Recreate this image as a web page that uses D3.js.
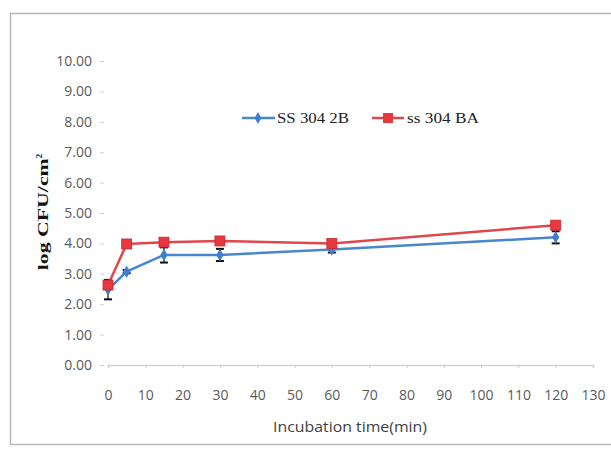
<!DOCTYPE html>
<html>
<head>
<meta charset="utf-8">
<script src="https://cdn.jsdelivr.net/npm/d3@7"></script>
<style>
  body { margin: 0; background: #fff; }
  svg { display: block; }
</style>
</head>
<body>
<svg id="chart" width="611" height="450"></svg>
<script>
// data
let times = [0, 5, 15, 30, 60, 120];
let ss2B = [2.48, 3.07, 3.62, 3.62, 3.80, 4.20];
let ss2B_err = [0.32, 0.05, 0.25, 0.20, 0.10, 0.20];
let ssBA = [2.63, 3.98, 4.04, 4.08, 4.00, 4.60];
let ssBA_err = [0.05, 0.05, 0.05, 0.05, 0.05, 0.05];
let seriesNames = ['SS 304 2B', 'ss 304 BA'];
let xTicks = d3.range(0, 131, 10);
let yTicks = d3.range(0, 10.01, 1);

let svg = d3.select('#chart');

// outer frame
svg.append('rect')
    .attr('x', 10.5).attr('y', 13.5)
    .attr('width', 640).attr('height', 431)
    .attr('fill', 'none')
    .attr('stroke', '#b8b8b8')
    .attr('stroke-width', 1.5);

let x = d3.scaleLinear().domain([0, 130]).range([108, 593]);
let y = d3.scaleLinear().domain([0, 10]).range([365, 61]);

// y axis
let yAxis = svg.append('g')
    .attr('transform', 'translate(104,0)')
    .call(d3.axisLeft(y).tickValues(yTicks).tickFormat(d3.format('.2f')).tickSize(4).tickPadding(8));
yAxis.select('.domain').remove();
yAxis.selectAll('line').attr('stroke', '#d0d0d0');
yAxis.selectAll('text')
    .attr('fill', '#5a5a5a')
    .style('font-family', 'Open Sans, sans-serif')
    .style('font-size', '14px');

// x axis
let xAxis = svg.append('g')
    .attr('transform', 'translate(0,365)')
    .call(d3.axisBottom(x).tickValues(xTicks).tickSize(3).tickPadding(22));
xAxis.select('.domain').attr('stroke', '#d0d0d0').attr('stroke-width', 1.5);
xAxis.selectAll('line').attr('stroke', '#d0d0d0');
xAxis.selectAll('text')
    .attr('fill', '#5a5a5a')
    .style('font-family', 'Open Sans, sans-serif')
    .style('font-size', '14px');

// axis titles
svg.append('text')
    .attr('x', 350).attr('y', 432)
    .attr('text-anchor', 'middle')
    .attr('fill', '#404040')
    .attr('textLength', 154)
    .attr('lengthAdjust', 'spacingAndGlyphs')
    .style('font-family', 'Open Sans, sans-serif')
    .style('font-size', '15px')
    .text('Incubation time(min)');

let yTitle = svg.append('text')
    .attr('transform', 'translate(48,212) rotate(-90)')
    .attr('text-anchor', 'middle')
    .attr('fill', '#111')
    .style('font-family', 'Liberation Serif, serif')
    .style('font-weight', 'bold')
    .style('font-size', '15px');
yTitle.append('tspan').attr('textLength', 112).attr('lengthAdjust', 'spacingAndGlyphs').text('log CFU/cm');
yTitle.append('tspan').attr('dy', -6).style('font-size', '9px').text('2');

let line = d3.line()
    .x((d, i) => x(times[i]))
    .y(d => y(d));

function errorBars(vals, errs, color) {
    let g = svg.append('g');
    vals.forEach(function (v, i) {
        let cx = x(times[i]);
        g.append('line')
            .attr('x1', cx).attr('x2', cx)
            .attr('y1', y(v - errs[i])).attr('y2', y(v + errs[i]))
            .attr('stroke', color).attr('stroke-width', 1.2);
        [v - errs[i], v + errs[i]].forEach(function (e) {
            g.append('line')
                .attr('x1', cx - 4).attr('x2', cx + 4)
                .attr('y1', y(e)).attr('y2', y(e))
                .attr('stroke', color).attr('stroke-width', 2);
        });
    });
}

errorBars(ss2B, ss2B_err, '#111');
errorBars(ssBA, ssBA_err, '#d9343a');

// blue series
svg.append('path')
    .datum(ss2B)
    .attr('d', line)
    .attr('fill', 'none')
    .attr('stroke', '#4a86d0')
    .attr('stroke-width', 2.5);

svg.selectAll('.blue_pts')
    .data(ss2B)
    .join('path')
    .attr('class', 'blue_pts')
    .attr('transform', (d, i) => 'translate(' + x(times[i]) + ',' + y(d) + ')')
    .attr('d', d3.symbol(d3.symbolDiamond, 45))
    .attr('fill', '#3f7fd0');

// red series
svg.append('path')
    .datum(ssBA)
    .attr('d', line)
    .attr('fill', 'none')
    .attr('stroke', '#e0474c')
    .attr('stroke-width', 2.5);

svg.selectAll('.red_pts')
    .data(ssBA)
    .join('rect')
    .attr('class', 'red_pts')
    .attr('x', (d, i) => x(times[i]) - 5)
    .attr('y', d => y(d) - 5)
    .attr('width', 10).attr('height', 10)
    .attr('fill', '#e8383f')
    .attr('stroke', '#c8282f')
    .attr('stroke-width', 0.8);

// legend
let legend = svg.append('g');
legend.append('line')
    .attr('x1', 242).attr('x2', 275).attr('y1', 118).attr('y2', 118)
    .attr('stroke', '#4a86d0').attr('stroke-width', 2.5);
legend.append('path')
    .attr('transform', 'translate(258,118)')
    .attr('d', d3.symbol(d3.symbolDiamond, 40))
    .attr('fill', '#3f7fd0');
legend.append('text')
    .attr('x', 277).attr('y', 123)
    .attr('fill', '#222')
    .attr('textLength', 72)
    .attr('lengthAdjust', 'spacingAndGlyphs')
    .style('font-family', 'Liberation Serif, serif')
    .style('font-size', '15px')
    .text(seriesNames[0]);

legend.append('line')
    .attr('x1', 372).attr('x2', 404).attr('y1', 118).attr('y2', 118)
    .attr('stroke', '#e0474c').attr('stroke-width', 2.5);
legend.append('rect')
    .attr('x', 383).attr('y', 113).attr('width', 10).attr('height', 10)
    .attr('fill', '#e8383f');
legend.append('text')
    .attr('x', 407).attr('y', 123)
    .attr('fill', '#222')
    .attr('textLength', 72)
    .attr('lengthAdjust', 'spacingAndGlyphs')
    .style('font-family', 'Liberation Serif, serif')
    .style('font-size', '15px')
    .text(seriesNames[1]);
</script>
</body>
</html>
